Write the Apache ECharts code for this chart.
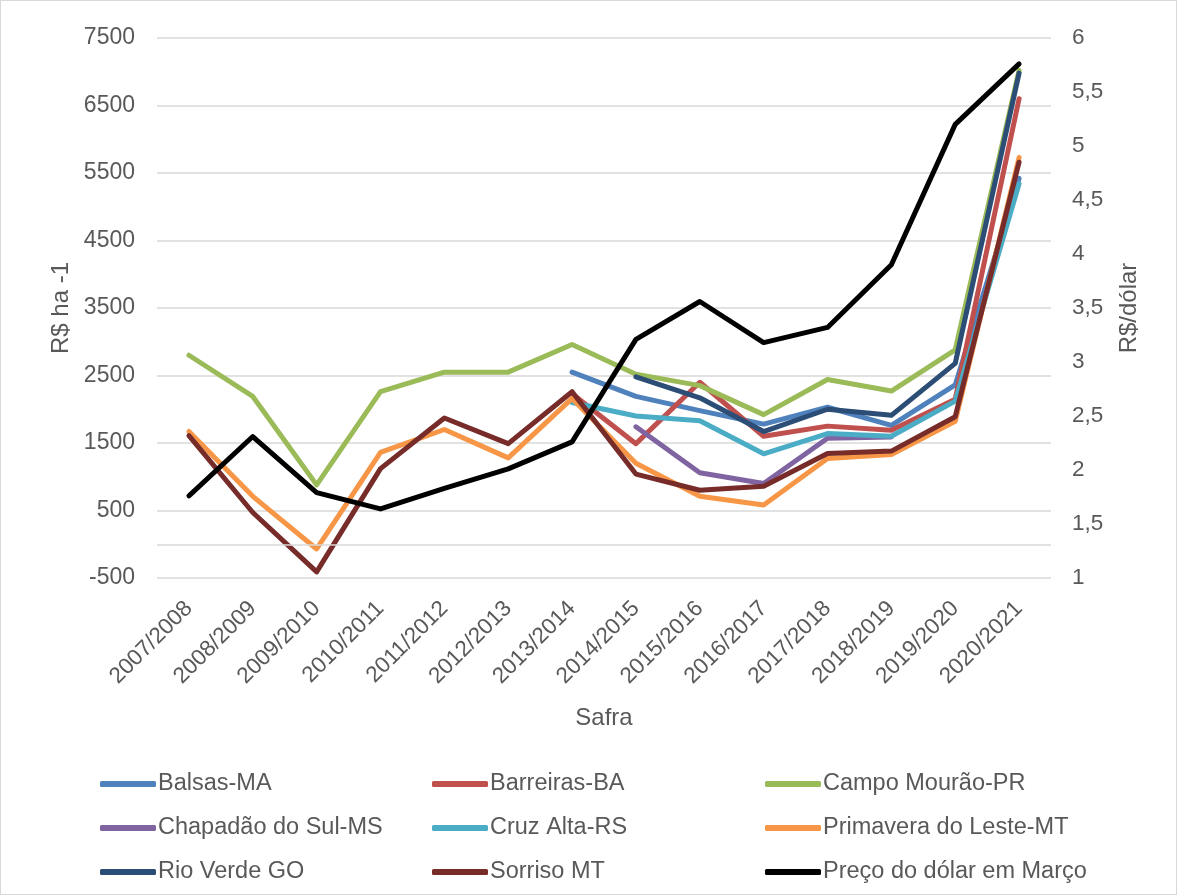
<!DOCTYPE html>
<html>
<head>
<meta charset="utf-8">
<script src="https://cdn.jsdelivr.net/npm/echarts@6/dist/echarts.min.js"></script>
<style>
html,body{margin:0;padding:0;background:#fff;}
#chart{width:1177px;height:895px;box-sizing:border-box;border:1px solid #d9d9d9;}
</style>
</head>
<body>
<div id="chart"></div>
<script>
const categories = ["2007/2008","2008/2009","2009/2010","2010/2011","2011/2012","2012/2013","2013/2014","2014/2015","2015/2016","2016/2017","2017/2018","2018/2019","2019/2020","2020/2021"];
const balsasMA      = [null,null,null,null,null,null,2550,2190,1980,1780,2030,1760,2360,5420];
const barreirasBA   = [null,null,null,null,null,null,2230,1490,2400,1600,1750,1690,2150,6600];
const campoMouraoPR = [2800,2190,880,2260,2550,2550,2960,2520,2350,1920,2440,2270,2880,7020];
const chapadaoMS    = [null,null,null,null,null,null,null,1740,1060,900,1570,1590,null,null];
const cruzAltaRS    = [null,null,null,null,null,null,2100,1900,1830,1340,1640,1600,2120,5340];
const primaveraMT   = [1670,710,-70,1360,1700,1280,2160,1200,710,580,1270,1330,1820,5730];
const rioVerdeGO    = [null,null,null,null,null,null,null,2480,2170,1670,2000,1910,2680,6980];
const sorrisoMT     = [1610,470,-410,1120,1870,1490,2260,1040,800,860,1345,1380,1890,5660];
const dolarMarco    = [1.76,2.31,1.79,1.64,1.83,2.01,2.26,3.21,3.56,3.18,3.32,3.90,5.20,5.76];
const leftTicks = {min:-500, max:7500, interval:1000};
const rightTicks = {min:1, max:6, interval:0.5};

const FONT = 'Liberation Sans, Arial, sans-serif';
const TXT = '#595959';
const chart = echarts.init(document.getElementById('chart'), null, {renderer:'canvas'});

function mk(name, data, color, axis, extra){
  return Object.assign({
    name, type:'line', data, yAxisIndex: axis, symbol:'none', smooth:false,
    lineStyle:{color, width:5, cap:'round', join:'round'}, itemStyle:{color},
    connectNulls:false, animation:false
  }, extra||{});
}

const series = [
  mk('Balsas-MA', balsasMA, '#4F81BD', 0, {markLine:{silent:true, symbol:'none', label:{show:false},
      lineStyle:{color:'#d9d9d9', width:1.5, type:'solid'}, data:[{yAxis:0}], animation:false}}),
  mk('Barreiras-BA', barreirasBA, '#C0504D', 0),
  mk('Campo Mourão-PR', campoMouraoPR, '#9BBB59', 0),
  mk('Chapadão do Sul-MS', chapadaoMS, '#8064A2', 0),
  mk('Cruz Alta-RS', cruzAltaRS, '#4BACC6', 0),
  mk('Primavera do Leste-MT', primaveraMT, '#F79646', 0),
  mk('Rio Verde GO', rioVerdeGO, '#2C4D75', 0),
  mk('Sorriso MT', sorrisoMT, '#772C2A', 0),
  mk('Preço do dólar em Março', dolarMarco, '#000000', 1)
];

function legendCol(left, names){
  return {
    left, top: 766, orient:'vertical', itemGap: 20,
    icon:'roundRect', itemWidth:56, itemHeight:6,
    textStyle:{color:TXT, fontSize:23.5, fontFamily:FONT, padding:[0,0,0,-3]},
    data: names, selectedMode:false
  };
}

chart.setOption({
  backgroundColor:'#fff',
  animation:false,
  textStyle:{fontFamily:FONT},
  grid:{left:156, right:125, top:37, bottom:316, containLabel:false},
  legend:[
    legendCol(94, ['Balsas-MA','Chapadão do Sul-MS','Rio Verde GO']),
    legendCol(426, ['Barreiras-BA','Cruz Alta-RS','Sorriso MT']),
    legendCol(759, ['Campo Mourão-PR','Primavera do Leste-MT','Preço do dólar em Março'])
  ],
  xAxis:{
    type:'category', data:categories, boundaryGap:true,
    axisLine:{show:false}, axisTick:{show:false},
    axisLabel:{rotate:45, color:TXT, fontSize:22.5, fontFamily:FONT, margin:27, interval:0},
    name:'Safra', nameLocation:'middle', nameGap:128,
    nameTextStyle:{color:TXT, fontSize:24, fontFamily:FONT}
  },
  yAxis:[
    {type:'value', min:leftTicks.min, max:leftTicks.max, interval:leftTicks.interval,
     axisLine:{show:false}, axisTick:{show:false},
     axisLabel:{color:TXT, fontSize:23, fontFamily:FONT, margin:22, formatter: v => String(v)},
     splitLine:{lineStyle:{color:'#d9d9d9', width:1.5}},
     name:'R$ ha -1', nameLocation:'middle', nameGap:84, nameRotate:90,
     nameTextStyle:{color:TXT, fontSize:24, fontFamily:FONT}},
    {type:'value', min:rightTicks.min, max:rightTicks.max, interval:rightTicks.interval,
     axisLine:{show:false}, axisTick:{show:false},
     axisLabel:{color:TXT, fontSize:22.5, fontFamily:FONT, margin:21,
       formatter: v => String(v).replace('.', ',')},
     splitLine:{show:false},
     name:'R$/dólar', nameLocation:'middle', nameGap:66, nameRotate:90,
     nameTextStyle:{color:TXT, fontSize:24, fontFamily:FONT}}
  ],
  series
});
</script>
</body>
</html>
